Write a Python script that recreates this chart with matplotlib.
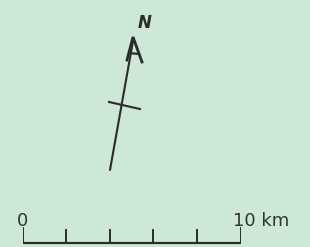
import matplotlib
matplotlib.use("Agg")
import matplotlib.pyplot as plt
import numpy as np

# scale bar data
scale_km = [0, 2, 4, 6, 8, 10]
scale_labels = {0: "0", 10: "10 km"}

# north arrow: tail -> tip in pixel space of the panel
arrow_tail = (110, 170)
arrow_tip = (133, 37)

bg = "#cde8d6"
ink = "#2b2b2b"

fig = plt.figure(figsize=(3.10, 2.47), dpi=100, facecolor=bg)
ax = fig.add_axes([0, 0, 1, 1])
ax.set_xlim(0, 310)
ax.set_ylim(247, 0)
ax.axis("off")
ax.set_facecolor(bg)

# north arrow shaft
tx, ty = arrow_tail
hx, hy = arrow_tip
ax.plot([tx, hx], [ty, hy + 4], color=ink, lw=1.5, solid_capstyle="round")

# "A" shaped head
ax.plot([hx - 6, hx, hx + 9], [hy + 23, hy, hy + 25], color=ink, lw=2.0,
        solid_joinstyle="miter")
ax.plot([hx - 4, hx + 6], [hy + 16, hy + 17], color=ink, lw=1.6)

# cross tick on the shaft
ax.plot([109, 140], [102, 109], color=ink, lw=1.5)

ax.text(145, 23, "N", fontsize=12, fontweight="bold", fontstyle="italic",
        color=ink, ha="center", va="center", family="DejaVu Sans")

# scale bar in its own axes so km map through the axis scale
sax = fig.add_axes([22.5 / 310, 0, (240.5 - 22.5) / 310, 1])
sax.set_xlim(0, 10)
sax.set_ylim(247, 0)
sax.axis("off")
sax.patch.set_alpha(0)
sax.plot([scale_km[0], scale_km[-1]], [243, 243], color=ink, lw=1.6, solid_capstyle="projecting")
for km in scale_km:
    top = 228 if km in (scale_km[0], scale_km[-1]) else 230
    sax.plot([km, km], [top, 243], color=ink, lw=1.4)
sax.text(0, 225.5, scale_labels[0], fontsize=13, color="#333333", ha="center", va="baseline",
         family="DejaVu Sans")
sax.text(9.66, 225.5, scale_labels[10], fontsize=13, color="#333333", ha="left", va="baseline",
         family="DejaVu Sans")

fig.savefig("out.png", dpi=100, facecolor=bg)
